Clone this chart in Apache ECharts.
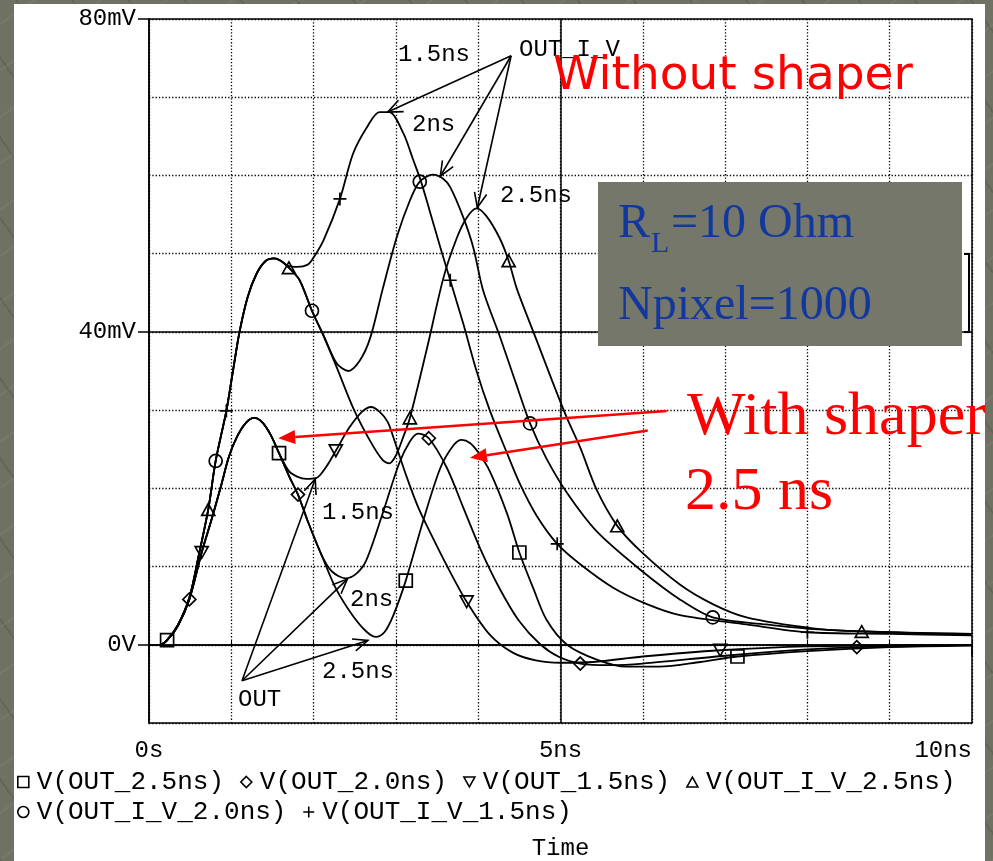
<!DOCTYPE html>
<html>
<head>
<meta charset="utf-8">
<script src="https://cdn.jsdelivr.net/npm/echarts@6/dist/echarts.min.js"></script>
<style>
  html, body { margin: 0; padding: 0; width: 993px; height: 861px; overflow: hidden;
    background: #6f7163;
    background-image: repeating-linear-gradient(55deg, rgba(0,0,0,0.10) 0 2px, transparent 2px 46px),
                      repeating-linear-gradient(-35deg, rgba(255,255,255,0.05) 0 2px, transparent 2px 38px); }
  #paper { position: absolute; left: 14px; top: 4px; width: 971px; height: 857px; background: #fff; }
  #chart { position: absolute; left: 0; top: 0; width: 993px; height: 861px; }
</style>
</head>
<body>
<div id="paper"></div>
<div id="chart"></div>
<script>
// time in ns, voltage in mV

// common rising edge of the three shaped outputs
const shaperRise = [[0,0],[0.13,0],[0.22,0.6],[0.35,2.4],[0.49,5.8],[0.64,11.8],[0.76,16],[0.88,20.5],[0.97,24],[1.07,26.6],[1.18,28.4],[1.28,29],[1.38,28.4],[1.48,26.8],[1.58,24.5]];
const out25Tail = [[1.7,21.6],[1.81,19.2],[1.94,15.5],[2.1,11.4],[2.27,7.2],[2.47,3.8],[2.64,1.7],[2.76,1.0],[2.86,1.6],[2.97,3.8],[3.12,8.2],[3.33,15.8],[3.54,22.6],[3.7,25.5],[3.8,26.2],[3.9,25.8],[4.0,24.6],[4.14,22.2],[4.35,16.8],[4.5,11.8],[4.67,7.2],[4.83,3.2],[5.08,0],[5.44,-1.9],[5.8,-2.8],[6.2,-2.8],[6.7,-2.2],[7.15,-1.5],[8,-0.8],[9,-0.3],[10,-0.1]];
const out20Tail = [[1.7,21.6],[1.81,19.2],[1.94,15.5],[2.1,11.4],[2.22,9.4],[2.39,8.5],[2.52,9.1],[2.64,10.8],[2.83,16.5],[3.04,23.2],[3.17,26],[3.27,27],[3.4,26.4],[3.62,22.6],[3.82,17.5],[4.02,12.4],[4.26,7.2],[4.5,3],[4.75,0.1],[4.99,-1.6],[5.24,-2.4],[5.6,-2.6],[6,-2.4],[7,-1.4],[8,-0.6],[8.6,-0.3],[10,0]];
const out15Tail = [[1.7,22.2],[1.8,21.5],[1.91,21.2],[2.03,21.3],[2.15,22.7],[2.27,24.8],[2.43,27.7],[2.59,29.8],[2.7,30.4],[2.8,29.8],[2.9,28.5],[2.97,26.5],[3.13,21.5],[3.27,17.6],[3.41,14.5],[3.62,10.1],[3.86,5.5],[4.14,1.3],[4.42,-1],[4.7,-2],[5,-2.3],[5.4,-2.2],[6,-1.5],[6.94,-0.7],[8,-0.2],[10,0]];

// common rising edge of the three unshaped outputs
const noShaperRise = [[0,0],[0.13,0],[0.22,0.6],[0.35,2.5],[0.49,6],[0.6,11.2],[0.72,17.3],[0.81,23.5],[0.94,29.9],[1.02,35],[1.1,40],[1.2,44.5],[1.31,47.5],[1.42,49.1],[1.52,49.4],[1.6,49.1]];
const iv25Tail = [[1.7,48.2],[1.83,46.6],[1.98,42.7],[2.12,39.5],[2.28,35.5],[2.48,30.3],[2.69,26],[2.84,23.6],[2.92,23.2],[3,24.2],[3.08,26.3],[3.17,29],[3.38,38],[3.58,47],[3.74,52],[3.86,54.6],[3.98,55.8],[4.1,54.8],[4.26,52],[4.37,49.1],[4.47,45.5],[4.7,39.2],[4.9,33.7],[5.07,29.2],[5.24,25.2],[5.44,19.8],[5.69,15.2],[5.97,12],[6.45,7.7],[6.85,5.2],[7.26,3.5],[8.07,2.1],[8.66,1.7],[10,1.4]];
const iv20Tail = [[1.7,48.2],[1.83,46.6],[1.98,42.7],[2.12,39.6],[2.28,36],[2.42,35],[2.56,36.3],[2.69,39.3],[2.84,45.5],[3.01,52.1],[3.17,56.8],[3.29,59.2],[3.45,60.1],[3.57,59.6],[3.66,58.5],[3.82,54.6],[3.94,50.8],[4.06,45.3],[4.26,39.5],[4.45,33.7],[4.63,28.3],[4.83,23.8],[5.08,19.4],[5.44,14.5],[5.97,9.6],[6.45,5.8],[6.85,3.5],[7.5,2.6],[8.07,2],[9,1.6],[10,1.3]];
const iv15Tail = [[1.7,48.4],[1.8,48.3],[1.93,48.6],[2,49.5],[2.12,51.7],[2.32,57],[2.48,62.8],[2.65,66.2],[2.8,68.1],[2.92,68.1],[3.09,65.4],[3.21,62],[3.3,59.4],[3.41,55.5],[3.54,50.8],[3.66,46.6],[3.82,41],[3.98,35],[4.14,30],[4.35,24.5],[4.51,20.5],[4.71,16.5],[4.96,12.9],[5.24,10.3],[5.64,7.3],[6.05,5.2],[6.45,3.8],[7.26,2.6],[8,1.6],[9,1.4],[10,1.2]];

// times where PSpice put a marker on each trace
const out25Marks = [0.22, 1.58, 3.12, 4.5, 7.15];
const out20Marks = [0.49, 1.81, 3.4, 5.24, 8.6];
const out15Marks = [0.64, 2.27, 3.86, 6.94];
const iv25Marks = [0.72, 1.7, 3.17, 4.37, 5.69, 8.66];
const iv20Marks = [0.81, 1.98, 3.29, 4.63, 6.85];
const iv15Marks = [0.94, 2.32, 3.66, 4.96, 8];

const seriesNames = ['V(OUT_2.5ns)', 'V(OUT_2.0ns)', 'V(OUT_1.5ns)', 'V(OUT_I_V_2.5ns)', 'V(OUT_I_V_2.0ns)', 'V(OUT_I_V_1.5ns)'];
const xTickValues = [0, 5, 10];
const xTickLabels = ['0s', '5ns', '10ns'];
const yTickValues = [0, 40, 80];
const yTickLabels = ['0V', '40mV', '80mV'];

const SYM = {
    square: 'rect',
    diamond: 'diamond',
    down: 'path://M0,0L10,0L5,9Z',
    up: 'path://M5,0L10,9L0,9Z',
    circle: 'circle',
    plus: 'path://M5,0L5,10M0,5L10,5'
};

const MONO = '"Liberation Mono", "Courier New", monospace';

function trace(name, data, marks, symbol) {
    return {
        name: name,
        type: 'line',
        data: data,
        smooth: 0.3,
        showSymbol: true,
        showAllSymbol: true,
        symbol: v => marks.includes(v[0]) ? symbol : 'none',
        symbolSize: 13,
        symbolKeepAspect: true,
        lineStyle: { color: '#000', width: 1.8 },
        itemStyle: { color: 'rgba(255,255,255,0)', borderColor: '#000', borderWidth: 1.7 },
        emphasis: { disabled: true },
        z: 3
    };
}

const chart = echarts.init(document.getElementById('chart'), null, { renderer: 'canvas' });

const dotted = { color: '#000', width: 1.3, type: [1.3, 2] };

const series = [
    trace(seriesNames[0], shaperRise.concat(out25Tail), out25Marks, SYM.square),
    trace(seriesNames[1], shaperRise.concat(out20Tail), out20Marks, SYM.diamond),
    trace(seriesNames[2], shaperRise.concat(out15Tail), out15Marks, SYM.down),
    trace(seriesNames[3], noShaperRise.concat(iv25Tail), iv25Marks, SYM.up),
    trace(seriesNames[4], noShaperRise.concat(iv20Tail), iv20Marks, SYM.circle),
    trace(seriesNames[5], noShaperRise.concat(iv15Tail), iv15Marks, SYM.plus)
];

// solid major grid lines (0V, 40mV, 5ns)
series[0].markLine = {
    silent: true,
    symbol: 'none',
    label: { show: false },
    lineStyle: { color: '#000', type: 'solid', width: 1.5 },
    data: [{ yAxis: 0 }, { yAxis: 40 }, { xAxis: 5 }]
};

const legendStyle = {
    itemWidth: 11,
    itemHeight: 11,
    itemGap: 16,
    selectedMode: false,
    itemStyle: { color: 'rgba(255,255,255,0)', borderColor: '#000', borderWidth: 1.6 },
    textStyle: { fontFamily: MONO, fontSize: 26, color: '#000', padding: [0, 0, 0, 3] }
};

const option = {
    backgroundColor: 'transparent',
    animation: false,
    grid: {
        left: 149, top: 19, width: 823, height: 704, show: true,
        borderColor: '#000', borderWidth: 1.5, backgroundColor: 'transparent',
        containLabel: false, outerBoundsMode: 'none'
    },
    legend: [
        Object.assign({ left: 12, top: 764, data: [
            { name: seriesNames[0], icon: SYM.square },
            { name: seriesNames[1], icon: SYM.diamond },
            { name: seriesNames[2], icon: SYM.down },
            { name: seriesNames[3], icon: SYM.up }
        ] }, legendStyle),
        Object.assign({ left: 12, top: 794, data: [
            { name: seriesNames[4], icon: SYM.circle },
            { name: seriesNames[5], icon: SYM.plus }
        ] }, legendStyle)
    ],
    xAxis: [
        {
            type: 'value', min: 0, max: 10, interval: 1, position: 'bottom',
            axisLine: { show: false },
            axisTick: { show: true, inside: true, length: 5, lineStyle: { color: '#000', width: 1 } },
            axisLabel: { show: false },
            splitLine: { show: true, lineStyle: dotted }
        },
        {
            type: 'value', min: 0, max: 10, interval: 5, position: 'bottom',
            axisLine: { show: true, lineStyle: { color: '#000', width: 1.5 } },
            axisTick: { show: true, length: 12, lineStyle: { color: '#000', width: 1.5 } },
            axisLabel: {
                margin: 16, color: '#000', fontFamily: MONO, fontSize: 24,
                alignMaxLabel: 'right',
                formatter: v => { const i = xTickValues.indexOf(v); return i < 0 ? '' : xTickLabels[i]; }
            },
            splitLine: { show: false },
            name: 'Time', nameLocation: 'middle', nameGap: 114,
            nameTextStyle: { color: '#000', fontFamily: MONO, fontSize: 24 }
        }
    ],
    yAxis: [
        {
            type: 'value', min: -10, max: 80, interval: 10,
            axisLine: { show: false }, axisTick: { show: false }, axisLabel: { show: false },
            splitLine: { show: true, lineStyle: dotted }
        },
        {
            type: 'value', min: -10, max: 80, position: 'left',
            axisLine: { show: true, lineStyle: { color: '#000', width: 1.5 } },
            axisTick: { show: true, length: 11, customValues: yTickValues, lineStyle: { color: '#000', width: 1.5 } },
            axisLabel: {
                margin: 13, color: '#000', fontFamily: MONO, fontSize: 24,
                customValues: yTickValues,
                formatter: v => { const i = yTickValues.indexOf(v); return i < 0 ? '' : yTickLabels[i]; }
            },
            splitLine: { show: false }
        }
    ],
    series: series
};

chart.setOption(option);

// ---- annotations (arrows point at curve features, given in data units) ----
const ivArrowFrom = [4.4, 75.3];
const ivArrowTo = [[2.9, 68.1], [3.54, 59.9], [3.99, 55.9]];
const outArrowFrom = [1.13, -4.6];
const outArrowTo = [[2.02, 21.2], [2.41, 8.4], [2.66, 0.55]];
const redArrows = [[[6.29, 29.9], [1.57, 26.4]], [[6.06, 27.4], [3.9, 23.9]]];

const px = p => chart.convertToPixel({ xAxisIndex: 0, yAxisIndex: 0 }, p);

function openArrow(a, b) {
    const p0 = px(a), p1 = px(b);
    const ang = Math.atan2(p1[1] - p0[1], p1[0] - p0[0]);
    const L = 16, s = 0.4;
    const b1 = [p1[0] - L * Math.cos(ang - s), p1[1] - L * Math.sin(ang - s)];
    const b2 = [p1[0] - L * Math.cos(ang + s), p1[1] - L * Math.sin(ang + s)];
    return [
        { type: 'polyline', z: 50, shape: { points: [p0, p1] }, style: { stroke: '#000', lineWidth: 1.6, fill: null } },
        { type: 'polyline', z: 50, shape: { points: [b1, p1, b2] }, style: { stroke: '#000', lineWidth: 1.6, fill: null } }
    ];
}

function redArrow(a, b) {
    const p0 = px(a), p1 = px(b);
    const ang = Math.atan2(p1[1] - p0[1], p1[0] - p0[0]);
    const L = 17, w = 7;
    const base = [p1[0] - L * Math.cos(ang), p1[1] - L * Math.sin(ang)];
    const n = [-Math.sin(ang) * w, Math.cos(ang) * w];
    return [
        { type: 'polyline', z: 60, shape: { points: [p0, base] }, style: { stroke: '#ff0000', lineWidth: 2.5, fill: null } },
        { type: 'polygon', z: 60, shape: { points: [p1, [base[0] + n[0], base[1] + n[1]], [base[0] - n[0], base[1] - n[1]]] }, style: { fill: '#ff0000' } }
    ];
}

function label(text, x, y, font, fill, z) {
    return {
        type: 'text', z: z || 55, x: x, y: y,
        style: { text: text, fill: fill || '#000', font: font || ('24px ' + MONO),
                 textAlign: 'left', textVerticalAlign: 'middle', align: 'left', verticalAlign: 'middle' }
    };
}

const graphics = [];
ivArrowTo.forEach(t => graphics.push(...openArrow(ivArrowFrom, t)));
outArrowTo.forEach(t => graphics.push(...openArrow(outArrowFrom, t)));
redArrows.forEach(r => graphics.push(...redArrow(r[0], r[1])));

graphics.push(
    label('1.5ns', 398, 55),
    label('OUT_I_V', 519, 50),
    label('2ns', 412, 125),
    label('2.5ns', 500, 196),
    label('1.5ns', 322, 513),
    label('2ns', 350, 600),
    label('2.5ns', 322, 672),
    label('OUT', 238, 700),
    label('Without shaper', 553, 77, '47px "DejaVu Sans"', '#ff0000', 70),
    label('With shaper', 687, 418, '62px "Liberation Serif"', '#ff0000', 70),
    label('2.5 ns', 685, 493, '62px "Liberation Serif"', '#ff0000', 70),
    // parameter box
    { type: 'rect', z: 80, shape: { x: 598, y: 182, width: 364, height: 164 }, style: { fill: '#75776a' } },
    label('R', 618, 224, '48px "Liberation Serif"', '#12389e', 85),
    label('L', 651, 244, '30px "Liberation Serif"', '#12389e', 85),
    label('=10 Ohm', 671, 224, '48px "Liberation Serif"', '#12389e', 85),
    label('Npixel=1000', 618, 306, '48px "Liberation Serif"', '#12389e', 85),
    { type: 'polyline', z: 80, shape: { points: [[964, 254], [969, 254], [969, 332], [964, 332]] }, style: { stroke: '#000', lineWidth: 2, fill: null } }
);

chart.setOption({ graphic: { elements: graphics } });
</script>
</body>
</html>
